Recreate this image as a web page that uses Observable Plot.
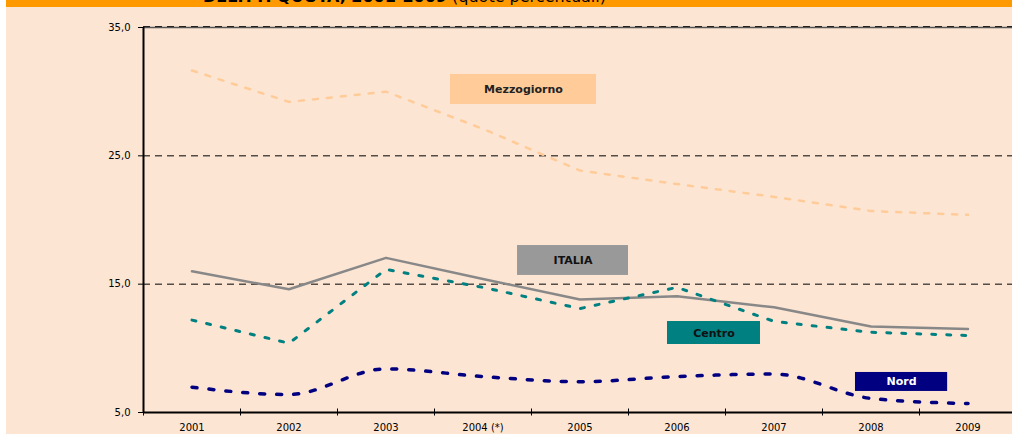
<!DOCTYPE html>
<html>
<head>
<meta charset="utf-8">
<script src="https://cdn.jsdelivr.net/npm/d3@7"></script>
<script src="https://cdn.jsdelivr.net/npm/@observablehq/plot@0.6"></script>
<style>
  html, body { margin: 0; padding: 0; background: #ffffff; }
  #page { position: absolute; left: 6px; top: 0; width: 1006px; height: 434px; background: #FDE5D3; overflow: hidden; }
  #band { position: absolute; left: 0; top: 0; width: 1006px; height: 7px; background: #FF9900; overflow: hidden; }
  #title { position: absolute; left: 197px; top: -11px; white-space: nowrap; font-family: "DejaVu Sans", sans-serif; font-size: 16px; line-height: 16px; color: #000; }
  #title b { font-weight: bold; }
  #chart { position: absolute; left: 0; top: 0; }
  #chart svg { background: transparent; overflow: visible; }
</style>
</head>
<body>
<div id="page"><div id="band"><div id="title"><b>DELITTI QUOTA, 2001-2009</b> (quote percentuali)</div></div></div>
<div id="chart"></div>
<script>
const years = ["2001", "2002", "2003", "2004 (*)", "2005", "2006", "2007", "2008", "2009"];
const mezzogiorno = [31.65, 29.2, 30.0, 27.1, 23.85, 22.8, 21.8, 20.7, 20.4];
const italia = [16.0, 14.6, 17.05, 15.4, 13.8, 14.05, 13.2, 11.7, 11.5];
const centro = [12.2, 10.4, 16.15, 14.75, 13.1, 14.75, 12.1, 11.25, 11.0];
const nord = [6.97, 6.4, 8.4, 7.8, 7.4, 7.8, 8.0, 6.1, 5.7];
const yTicks = [5, 15, 25, 35];
const gridValues = [15, 25];

// label boxes (data units: x = category index, y = percentage)
const labelNames = ["Mezzogiorno", "ITALIA", "Centro", "Nord"];
const labelX1 = [2.665, 3.356, 4.902, 6.84];
const labelX2 = [4.17, 4.5, 5.861, 7.79];
const labelY1 = [29.0, 15.68, 10.30, 6.64];
const labelY2 = [31.34, 18.01, 12.09, 8.12];
const labelFill = ["#FFCC99", "#999999", "#008080", "#000080"];
const labelText = ["#222222", "#111111", "#111111", "#ffffff"];

const idx = years.map((_, i) => i);
const toRows = (vals) => vals.map((v, i) => ({i, v}));
const labels = labelNames.map((name, k) => ({
  name, x1: labelX1[k], x2: labelX2[k], y1: labelY1[k], y2: labelY2[k],
  fill: labelFill[k], text: labelText[k]
}));
const boundaries = d3.range(years.length + 1).map(i => i - 0.5);

const chart = Plot.plot({
  width: 1012,
  height: 434,
  marginTop: 27,
  marginBottom: 22,
  marginLeft: 143,
  marginRight: 0,
  style: {fontFamily: "DejaVu Sans, sans-serif", fontSize: "10px", color: "#000", background: "transparent"},
  x: {type: "linear", domain: [-0.5, years.length - 0.5], range: [143, 1016]},
  y: {domain: [5, 35]},
  marks: [
    Plot.ruleY(gridValues, {stroke: "#000", strokeWidth: 1, strokeDasharray: "7,5"}),
    Plot.ruleY([35], {stroke: "#555", strokeWidth: 1.5}),
    Plot.ruleY([35], {stroke: "#222", strokeWidth: 1, strokeDasharray: "7,5", dy: -1}),
    Plot.line(toRows(mezzogiorno), {x: "i", y: "v", stroke: "#FFCC99", strokeWidth: 2.5, strokeDasharray: "5,9"}),
    Plot.line(toRows(italia), {x: "i", y: "v", stroke: "#888888", strokeWidth: 2.5}),
    Plot.line(toRows(centro), {x: "i", y: "v", stroke: "#008080", strokeWidth: 3, strokeDasharray: "4,11"}),
    Plot.line(toRows(nord), {x: "i", y: "v", stroke: "#000080", strokeWidth: 3.5, strokeDasharray: "5,12", curve: "monotone-x"}),
    Plot.rect(labels, {x1: "x1", x2: "x2", y1: "y1", y2: "y2", fill: "fill"}),
    Plot.text(labels, {x: d => (d.x1 + d.x2) / 2, y: d => (d.y1 + d.y2) / 2, text: "name", fill: "text", fontWeight: "bold", fontSize: 11}),
    Plot.ruleX([-0.5], {stroke: "#000", strokeWidth: 2}),
    Plot.ruleY([5], {stroke: "#000", strokeWidth: 2}),
    Plot.axisY({ticks: yTicks, tickFormat: d => d.toFixed(1).replace(".", ","), tickSize: 5, tickPadding: 8, stroke: "#000", fill: "#000"}),
    Plot.axisX({ticks: boundaries, tickFormat: () => "", tickSize: 7, dy: -3.5, stroke: "#000"}),
    Plot.axisX({ticks: idx, tickFormat: i => years[i], tickSize: 0, tickPadding: 11, fill: "#000"})
  ]
});
document.getElementById("chart").appendChild(chart);
</script>
</body>
</html>
